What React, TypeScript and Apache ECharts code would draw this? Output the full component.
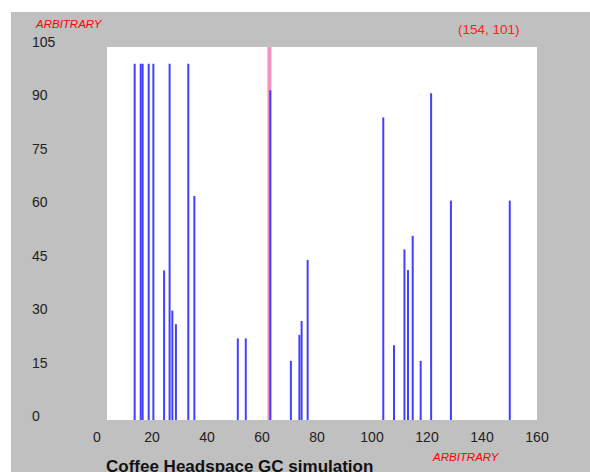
import React, { useEffect, useRef } from "react";
import * as echarts from "echarts";

const peakTimes = [13.7, 15.9, 16.6, 18.8, 20.5, 24.4, 26.4, 27.4, 28.7, 33.2, 35.4, 51.2, 54.1, 63.0, 70.5, 73.6, 74.4, 76.6, 104.1, 108, 111.8, 113.1, 114.8, 117.7, 121.5, 128.7, 150.1];
const peakHeights = [100, 100, 100, 100, 100, 42, 100, 30.7, 26.9, 100, 62.9, 22.9, 22.9, 92.6, 16.6, 23.9, 27.8, 44.9, 84.9, 21, 47.9, 42.1, 51.7, 16.6, 91.7, 61.6, 61.6];
const cursorX = 62.7;
const xTicks = { min: 0, max: 160, interval: 20 };
const yTicks = { min: 0, max: 105, interval: 15 };
const axisTitleText = "ARBITRARY";
const cursorReadout = "(154, 101)";
const chartTitle = "Coffee Headspace GC simulation";

export default function App() {
  const ref = useRef<HTMLDivElement>(null);
  useEffect(() => {
    if (!ref.current) return;
    const chart = echarts.init(ref.current, null, { renderer: "svg" });
    const peaks = peakTimes.map((t, i) => [t, peakHeights[i]]);
    const font = "'Liberation Sans', Arial, sans-serif";
    chart.setOption({
      animation: false,
      backgroundColor: "#ffffff",
      grid: { left: 97, top: 46, width: 440, height: 374 },
      xAxis: {
        type: "value",
        min: xTicks.min,
        max: xTicks.max,
        interval: xTicks.interval,
        axisLine: { show: false },
        axisTick: { show: false },
        splitLine: { show: false },
        axisLabel: { color: "#222", fontSize: 14, fontFamily: font, margin: 10 },
      },
      yAxis: {
        type: "value",
        min: yTicks.min,
        max: yTicks.max,
        interval: yTicks.interval,
        axisLine: { show: false },
        axisTick: { show: false },
        splitLine: { show: false },
        axisLabel: { color: "#222", fontSize: 14, fontFamily: font, margin: 65, align: "left", verticalAlign: "bottom", padding: [0, 0, -3, 0] },
      },
      graphic: [
        { type: "rect", z: -10, silent: true, shape: { x: 11, y: 12, width: 579, height: 460 }, style: { fill: "#c0c0c0" } },
        { type: "rect", z: -9, silent: true, shape: { x: 107, y: 47, width: 430, height: 373 }, style: { fill: "#ffffff" } },
        { type: "text", left: 36, top: 18, style: { text: axisTitleText, fill: "#ff0000", font: "italic 11.5px " + font } },
        { type: "text", left: 458, top: 22, style: { text: cursorReadout, fill: "#ff2020", font: "13.5px " + font } },
        { type: "text", left: 433, top: 451, style: { text: axisTitleText, fill: "#ff0000", font: "italic 11.5px " + font } },
        { type: "text", left: 106, top: 458, style: { text: chartTitle, fill: "#111", font: "bold 17px " + font } },
      ],
      series: [
        {
          type: "custom",
          name: "cursor",
          z: 1,
          data: [[cursorX, yTicks.max]],
          renderItem: (params: any, api: any) => {
            const top = api.coord([api.value(0), api.value(1)]);
            const bottom = api.coord([api.value(0), 0]);
            return { type: "rect", shape: { x: top[0] - 2, y: top[1] + 1, width: 4, height: bottom[1] - top[1] - 1 }, style: { fill: "#f592c0" } };
          },
        },
        {
          type: "custom",
          name: "peaks",
          z: 2,
          data: peaks,
          renderItem: (params: any, api: any) => {
            const top = api.coord([api.value(0), api.value(1)]);
            const bottom = api.coord([api.value(0), 0]);
            return { type: "rect", shape: { x: top[0] - 1, y: top[1], width: 2, height: bottom[1] - top[1] }, style: { fill: "#4040ff" } };
          },
        },
      ],
    });
    return () => chart.dispose();
  }, []);
  return <div ref={ref} style={{ position: "fixed", left: 0, top: 0, width: 590, height: 472 }} />;
}
